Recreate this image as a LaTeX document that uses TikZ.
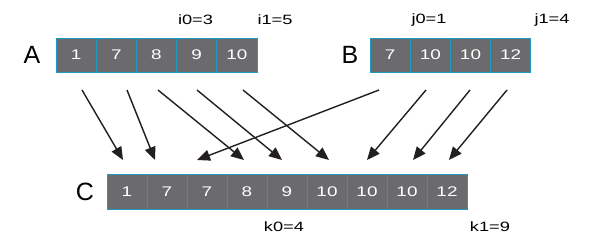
\documentclass[tikz,border=0pt]{standalone}
\usepackage{fontspec}
\setmainfont{Liberation Sans}
\usetikzlibrary{arrows.meta}
\definecolor{cellgray}{HTML}{6B6B6E}
\definecolor{cellcyan}{HTML}{1F9BBF}
\definecolor{arrowblack}{HTML}{231F20}
\newcommand{\hstretch}[1]{\scalebox{1.35}[1]{#1}}
\begin{document}
\begin{tikzpicture}[x=1pt,y=-1pt,
  cell/.style={rectangle,draw=cellcyan,fill=cellgray,line width=1pt,inner sep=0pt,
    minimum width=40.2pt,minimum height=34pt,text=white,font=\fontsize{14}{17}\selectfont},
  arrname/.style={font=\fontsize{25}{30}\selectfont,text=black},
  idx/.style={font=\fontsize{13.5}{16}\selectfont,text=black},
  mv/.style={draw=arrowblack,line width=1.4pt,-{Triangle[length=13pt,width=11pt]}}]
\useasboundingbox (0,0) rectangle (605,241);
% array A
\foreach \v [count=\i] in {1,7,8,9,10}
  \node[cell] (a\i) at ({56+20.1+40.2*(\i-1)},55) {\hstretch{\v}};
\node[arrname] (lA) at (32,55) {A};
\node[idx] (i0) at (195.5,20) {\hstretch{i0=3}};
\node[idx] (i1) at (275,20) {\hstretch{i1=5}};
% array B
\foreach \v [count=\i] in {7,10,10,12}
  \node[cell] (b\i) at ({370+20.1+40.2*(\i-1)},55) {\hstretch{\v}};
\node[arrname] (lB) at (350,55) {B};
\node[idx] (j0) at (429,20) {\hstretch{j0=1}};
\node[idx] (j1) at (552,20) {\hstretch{j1=4}};
% array C
\foreach \v [count=\i] in {1,7,7,8,9,10,10,10,12}
  \node[cell,minimum width=40pt,minimum height=35pt] (c\i) at ({107+20+40*(\i-1)},191.5) {\hstretch{\v}};
\node[arrname] (lC) at (85,192) {C};
\node[idx] (k0) at (284,227) {\hstretch{k0=4}};
\node[idx] (k1) at (490,227) {\hstretch{k1=9}};
% arrow end points
\coordinate (s1) at (82,90);  \coordinate (e1) at (123,160);
\coordinate (s2) at (127,90); \coordinate (e2) at (155,160);
\coordinate (s3) at (158,90); \coordinate (e3) at (244,160);
\coordinate (s4) at (197,90); \coordinate (e4) at (282,160);
\coordinate (s5) at (243,90); \coordinate (e5) at (329,160);
\coordinate (s6) at (379,90); \coordinate (e6) at (197,160);
\coordinate (s7) at (426,90); \coordinate (e7) at (367,160);
\coordinate (s8) at (470,90); \coordinate (e8) at (413,160);
\coordinate (s9) at (507,90); \coordinate (e9) at (449,160);
\foreach \k in {1,...,9} \draw[mv] (s\k) -- (e\k);
\end{tikzpicture}
\end{document}
